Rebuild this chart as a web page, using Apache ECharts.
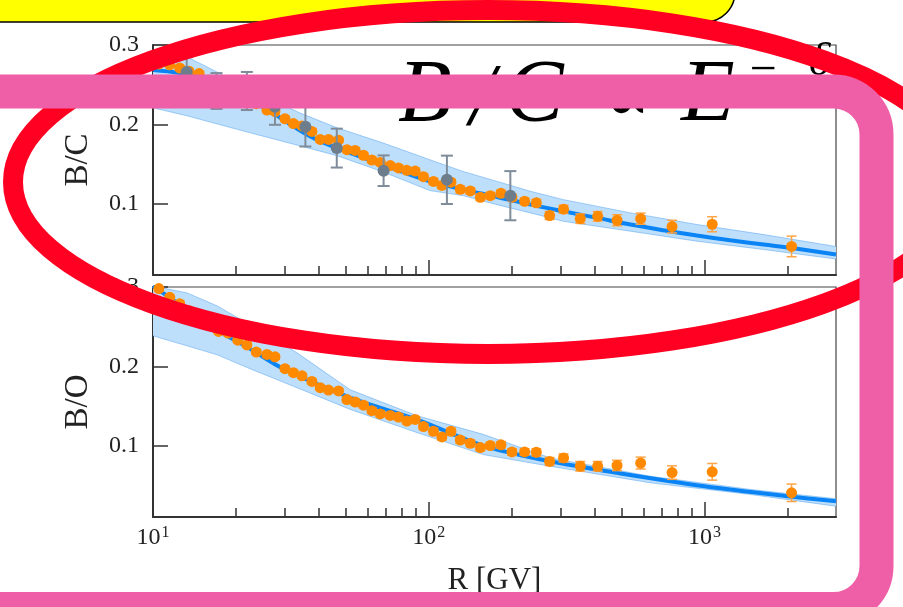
<!DOCTYPE html>
<html><head><meta charset="utf-8">
<script src="https://cdn.jsdelivr.net/npm/echarts@6/dist/echarts.min.js"></script>
<style>html,body{margin:0;padding:0;background:#fff}#c{width:903px;height:607px}</style>
</head><body><div id="c"></div>
<script>
// ---------------- data ----------------
const rigidity = [10.5, 11.5, 12.5, 13.5, 14.7, 15.9, 17.3, 18.7, 20.3, 21.9,
  23.7, 25.9, 27.7, 30.1, 32.3, 34.7, 37.7, 40.4, 43.3, 47.1,
  50.5, 54.1, 58.0, 62.2, 66.7, 72.5, 77.7, 83.3, 89.3, 95.7,
  104, 111.6, 120.4, 130.1, 141.5, 153.9, 167.2, 182.8, 200.4, 222.7,
  245.6, 274.4, 308.3, 354.6, 410, 482, 587, 763, 1067, 2070];

const bcValues = [0.276, 0.275, 0.271, 0.267, 0.264, 0.256, 0.250, 0.243, 0.237, 0.231,
  0.226, 0.218, 0.216, 0.207, 0.201, 0.198, 0.191, 0.181, 0.181, 0.180,
  0.168, 0.167, 0.161, 0.155, 0.152, 0.148, 0.145, 0.142, 0.141, 0.134,
  0.128, 0.123, 0.127, 0.118, 0.116, 0.108, 0.110, 0.113, 0.108, 0.103,
  0.101, 0.085, 0.093, 0.081, 0.084, 0.079, 0.081, 0.071, 0.074, 0.046];
const bcErrors = [0.003, 0.003, 0.003, 0.003, 0.003, 0.003, 0.003, 0.003, 0.003, 0.003,
  0.003, 0.003, 0.003, 0.003, 0.003, 0.003, 0.003, 0.003, 0.003, 0.003,
  0.0035, 0.0035, 0.0035, 0.0035, 0.0035, 0.0035, 0.0035, 0.0035, 0.0035, 0.0035,
  0.004, 0.004, 0.004, 0.004, 0.004, 0.004, 0.004, 0.004, 0.004, 0.004,
  0.0045, 0.005, 0.005, 0.006, 0.006, 0.007, 0.007, 0.008, 0.0095, 0.013];

const boValues = [0.298, 0.287, 0.279, 0.270, 0.261, 0.252, 0.244, 0.242, 0.233, 0.227,
  0.218, 0.215, 0.212, 0.197, 0.192, 0.188, 0.181, 0.173, 0.170, 0.169,
  0.158, 0.155, 0.151, 0.144, 0.140, 0.138, 0.136, 0.131, 0.133, 0.124,
  0.118, 0.111, 0.118, 0.107, 0.103, 0.0975, 0.100, 0.101, 0.092, 0.092,
  0.0915, 0.080, 0.0845, 0.074, 0.074, 0.075, 0.078, 0.066, 0.067, 0.0405];
const boErrors = [0.003, 0.003, 0.003, 0.003, 0.003, 0.003, 0.003, 0.003, 0.003, 0.003,
  0.003, 0.003, 0.003, 0.003, 0.003, 0.003, 0.003, 0.003, 0.003, 0.003,
  0.0035, 0.0035, 0.0035, 0.0035, 0.0035, 0.0035, 0.0035, 0.0035, 0.0035, 0.0035,
  0.004, 0.004, 0.004, 0.004, 0.004, 0.004, 0.004, 0.004, 0.004, 0.004,
  0.0045, 0.005, 0.005, 0.006, 0.006, 0.0065, 0.0075, 0.0085, 0.0105, 0.011];

const otherR = [13.25, 17.0, 21.9, 27.7, 35.7, 46.4, 68.6, 116.4, 197.7];
const otherBC = [0.266, 0.242, 0.242, 0.222, 0.197, 0.170, 0.1415, 0.130, 0.110];
const otherErrors = [0.0185, 0.0226, 0.024, 0.0226, 0.025, 0.0245, 0.0193, 0.0305, 0.031];

const bcFitR = [10, 14.8, 24.5, 39.3, 68.4, 101, 134, 177, 234, 308, 408, 539, 711, 940, 1240, 1640, 2170, 3000];
const bcFitV = [0.2686, 0.259, 0.2233, 0.1805, 0.1491, 0.1281, 0.1176, 0.1084, 0.0987, 0.0903, 0.0820, 0.0736, 0.0664, 0.0597, 0.0538, 0.0484, 0.0430, 0.0358];
const bcBandR = [10, 13.3, 16.5, 22.5, 34, 46.5, 68, 101, 133, 177, 234, 308, 540, 940, 1640, 3000];
const bcBandHigh = [0.2912, 0.2849, 0.2686, 0.2434, 0.2145, 0.1956, 0.1767, 0.1553, 0.1406, 0.1280, 0.1155, 0.1050, 0.0883, 0.0736, 0.0610, 0.0459];
const bcBandLow = [0.2208, 0.2107, 0.2019, 0.1893, 0.1730, 0.1604, 0.1403, 0.1164, 0.1101, 0.0987, 0.0883, 0.0777, 0.0652, 0.0526, 0.0421, 0.0302];

const boFitR = [10, 10.6, 17.3, 22.5, 29.7, 51.9, 90.7, 157.5, 276, 482, 1001, 2000, 3000];
const boFitV = [0.3013, 0.295, 0.2447, 0.222, 0.1969, 0.1604, 0.1327, 0.1000, 0.0802, 0.0657, 0.0488, 0.0362, 0.0299];
const boBandR = [10, 13.3, 17.1, 22.5, 33.3, 51.9, 90.7, 157.5, 276, 637, 1470, 3000];
const boBandHigh = [0.3013, 0.2925, 0.2761, 0.2522, 0.2170, 0.1704, 0.1377, 0.1142, 0.0845, 0.0614, 0.0447, 0.0330];
const boBandLow = [0.2384, 0.2258, 0.2145, 0.1969, 0.1730, 0.1457, 0.1164, 0.0887, 0.0740, 0.0531, 0.0384, 0.0236];

const xMajorTicks = [10, 100, 1000];
const xTickExponents = ['1', '2', '3'];
const xMinorTicks = [20, 30, 40, 50, 60, 70, 80, 90, 200, 300, 400, 500, 600, 700, 800, 900, 2000];
const yTicks = [0.1, 0.2, 0.3];
const yTickLabels = ['0.1', '0.2', '0.3'];
const xAxisTitle = 'R [GV]';
const topTitle = 'B/C';
const bottomTitle = 'B/O';

// ---------------- chart ----------------
const SERIF = '"Liberation Serif", "DejaVu Serif", serif';
const chart = echarts.init(document.getElementById('c'), null, {renderer: 'canvas'});

function findIdx(list, v) {
  return list.findIndex(t => Math.abs(t - v) / t < 1e-4);
}
function xMain(gridIndex, showLabels) {
  return {
    type: 'log', logBase: 10, gridIndex, min: 10, max: 3000, position: 'bottom',
    axisLine: {show: true, onZero: false, lineStyle: {color: '#333', width: 2}},
    axisTick: {show: true, inside: true, length: 15, lineStyle: {color: '#333', width: 1.5}, customValues: xMajorTicks},
    axisLabel: {
      show: showLabels, customValues: xMajorTicks, margin: 8,
      fontFamily: SERIF, fontSize: 24, color: '#222',
      formatter: v => { const i = findIdx(xMajorTicks, v); return i < 0 ? '' : '10{sup|' + xTickExponents[i] + '}'; },
      rich: {sup: {fontSize: 16, fontFamily: SERIF, color: '#222', verticalAlign: 'top', padding: [0, 0, 10, 1]}}
    },
    splitLine: {show: false}, minorTick: {show: false},
    name: showLabels ? xAxisTitle : '', nameLocation: 'middle', nameGap: 48,
    nameTextStyle: {fontFamily: SERIF, fontSize: 31, color: '#222'}
  };
}
function xMinor(gridIndex) {
  return {
    type: 'log', logBase: 10, gridIndex, min: 10, max: 3000, position: 'bottom',
    axisLine: {show: false},
    axisTick: {show: true, inside: true, length: 9, lineStyle: {color: '#333', width: 1.5}, customValues: xMinorTicks},
    axisLabel: {show: false}, splitLine: {show: false}
  };
}
function yAx(gridIndex, name) {
  return {
    type: 'value', gridIndex, min: 0.01, max: 0.3,
    axisLine: {show: true, onZero: false, lineStyle: {color: '#333', width: 2}},
    axisTick: {show: true, inside: true, length: 15, lineStyle: {color: '#333', width: 1.5}, customValues: yTicks},
    axisLabel: {
      customValues: yTicks, margin: 14, fontFamily: SERIF, fontSize: 24, color: '#222',
      formatter: v => { const i = findIdx(yTicks, v); return i < 0 ? '' : yTickLabels[i]; }
    },
    splitLine: {show: false},
    name, nameLocation: 'middle', nameGap: 58, nameRotate: 90,
    nameTextStyle: {fontFamily: SERIF, fontSize: 33, color: '#222'}
  };
}
function errorBars(color, halfCap, width) {
  return function (params, api) {
    const x = api.value(0), lo = api.value(1), hi = api.value(2);
    const a = api.coord([x, lo]), b = api.coord([x, hi]);
    const st = {stroke: color, lineWidth: width};
    return {type: 'group', children: [
      {type: 'line', shape: {x1: a[0], y1: a[1], x2: b[0], y2: b[1]}, style: st},
      {type: 'line', shape: {x1: a[0] - halfCap, y1: a[1], x2: a[0] + halfCap, y2: a[1]}, style: st},
      {type: 'line', shape: {x1: b[0] - halfCap, y1: b[1], x2: b[0] + halfCap, y2: b[1]}, style: st}
    ]};
  };
}
function bandSeries(xi, yi, R, lo, hi) {
  return {
    type: 'custom', xAxisIndex: xi, yAxisIndex: yi, clip: true, z: 1, silent: true,
    encode: {x: 0, y: [1, 2]},
    data: [[R[0], lo[0], hi[0]]],
    renderItem: function (params, api) {
      const upper = R.map((r, i) => api.coord([r, hi[i]]));
      const lower = R.map((r, i) => api.coord([r, lo[i]]));
      const edge = {stroke: 'rgba(80,160,240,0.5)', lineWidth: 1, fill: 'none'};
      return {type: 'group', children: [
        {type: 'polygon', shape: {points: upper.concat(lower.slice().reverse())}, style: {fill: '#bddffb'}},
        {type: 'polyline', shape: {points: upper}, style: edge},
        {type: 'polyline', shape: {points: lower}, style: edge}
      ]};
    }
  };
}
function fitSeries(xi, yi, R, V) {
  return {type: 'line', xAxisIndex: xi, yAxisIndex: yi, symbol: 'none', smooth: 0.35,
    lineStyle: {color: '#0a84f5', width: 4}, data: R.map((r, i) => [r, V[i]]), z: 3};
}
function pointSeries(xi, yi, R, V, E, color, barColor, size, halfCap, lw, z) {
  return [
    {type: 'custom', xAxisIndex: xi, yAxisIndex: yi, renderItem: errorBars(barColor, halfCap, lw),
      encode: {x: 0, y: [1, 2]}, data: R.map((r, i) => [r, V[i] - E[i], V[i] + E[i]]), z: z, clip: true},
    {type: 'scatter', xAxisIndex: xi, yAxisIndex: yi, symbol: 'circle', symbolSize: size,
      itemStyle: {color: color, opacity: 1}, data: R.map((r, i) => [r, V[i]]), z: z + 1}
  ];
}

const option = {
  animation: false,
  backgroundColor: '#fff',
  grid: [
    {left: 153, top: 45, width: 683, height: 230, show: true, borderColor: '#444', borderWidth: 1.2, backgroundColor: 'transparent'},
    {left: 153, top: 287, width: 683, height: 230, show: true, borderColor: '#444', borderWidth: 1.2, backgroundColor: 'transparent'}
  ],
  xAxis: [xMain(0, false), xMinor(0), xMain(1, true), xMinor(1)],
  yAxis: [yAx(0, topTitle), yAx(1, bottomTitle)],
  series: [].concat(
    [bandSeries(0, 0, bcBandR, bcBandLow, bcBandHigh)],
    [fitSeries(0, 0, bcFitR, bcFitV)],
    pointSeries(0, 0, rigidity, bcValues, bcErrors, '#ff8a00', '#ffa447', 11, 5, 1.5, 5),
    pointSeries(0, 0, otherR, otherBC, otherErrors, '#6e7d8c', '#7f8c99', 12, 6, 2, 8),
    [bandSeries(2, 1, boBandR, boBandLow, boBandHigh)],
    [fitSeries(2, 1, boFitR, boFitV)],
    pointSeries(2, 1, rigidity, boValues, boErrors, '#ff8a00', '#ffa447', 11, 5, 1.5, 5)
  ),
  graphic: [
    {type: 'text', z: 100, style: {text: 'B', x: 398, y: 97, font: 'italic 88px ' + SERIF, fill: '#000', align: 'left', verticalAlign: 'middle'}},
    {type: 'text', z: 100, style: {text: '/', x: 482, y: 101, font: 'italic 88px ' + SERIF, fill: '#000', align: 'center', verticalAlign: 'middle'}},
    {type: 'text', z: 100, style: {text: 'C', x: 505, y: 97, font: 'italic 88px ' + SERIF, fill: '#000', align: 'left', verticalAlign: 'middle'}},
    {type: 'text', z: 100, style: {text: '\u221D', x: 627, y: 103, font: '70px ' + SERIF, fill: '#000', align: 'center', verticalAlign: 'middle'}},
    {type: 'text', z: 100, style: {text: 'E', x: 681, y: 97, font: 'italic 88px ' + SERIF, fill: '#000', align: 'left', verticalAlign: 'middle'}},
    {type: 'text', z: 100, style: {text: '\u2212', x: 763, y: 71, font: '48px ' + SERIF, fill: '#000', align: 'center', verticalAlign: 'middle'}},
    {type: 'text', z: 100, style: {text: '\u03B4', x: 809, y: 63, font: 'italic 46px ' + SERIF, fill: '#000', align: 'left', verticalAlign: 'middle'}},
    {type: 'rect', z: 101, shape: {x: -30, y: -40, width: 765, height: 62, r: 30},
      style: {fill: '#ffff00', stroke: '#000', lineWidth: 1.5}},
    {type: 'ellipse', z: 102, shape: {cx: 488, cy: 182, rx: 475, ry: 172},
      style: {fill: 'none', stroke: '#ff0022', lineWidth: 20}},
    {type: 'rect', z: 103, shape: {x: -60, y: 91.5, width: 936.5, height: 517.5, r: 43},
      style: {fill: 'none', stroke: '#ee5fa7', lineWidth: 34}}
  ]
};
chart.setOption(option);
</script></body></html>
